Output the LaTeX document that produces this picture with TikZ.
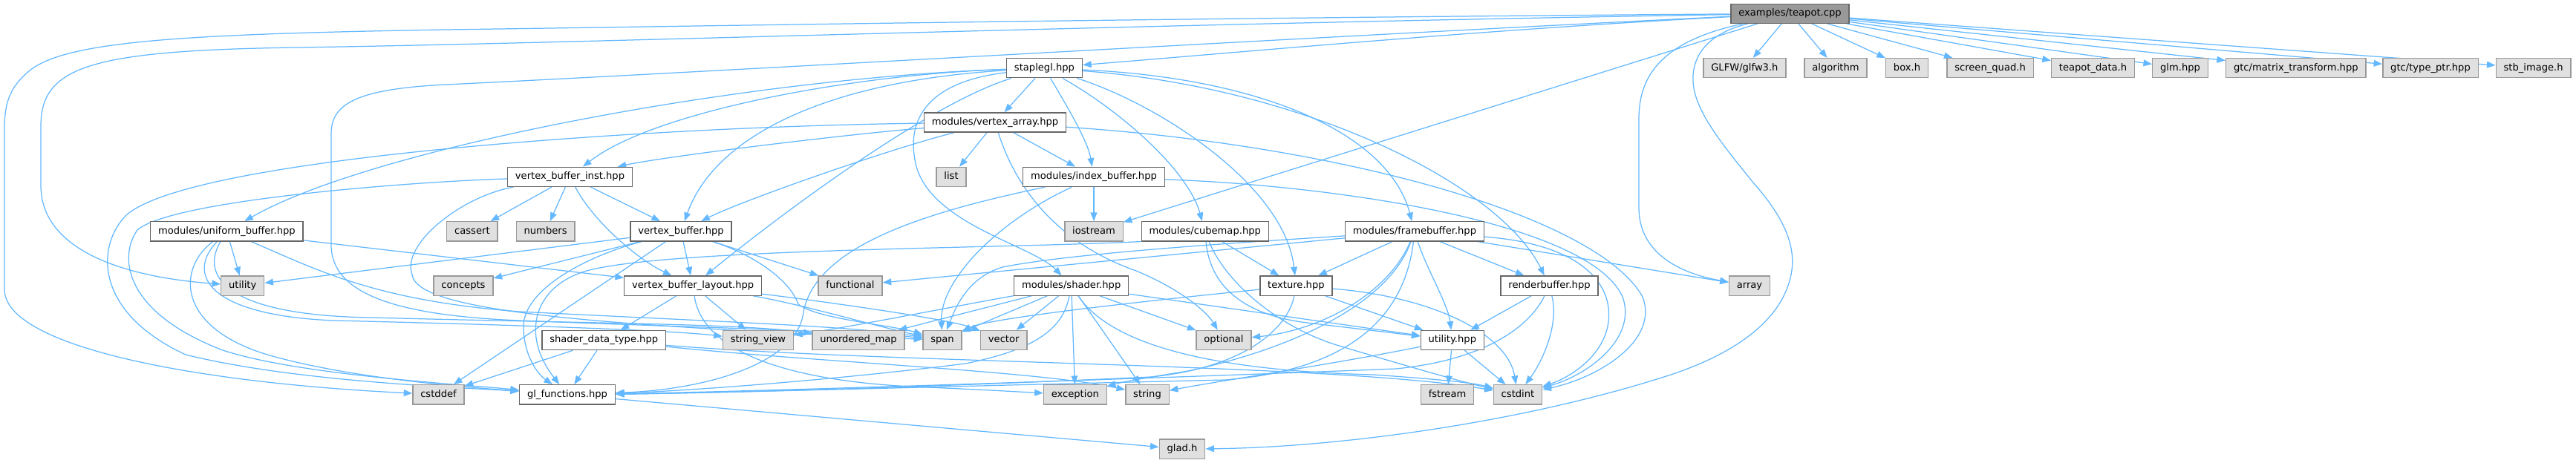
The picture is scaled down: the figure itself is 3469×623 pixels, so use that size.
\documentclass[tikz,border=0pt]{standalone}
\usepackage{fontspec}
\setmainfont{DejaVu Sans}
\usetikzlibrary{arrows.meta}
\definecolor{depblue}{HTML}{63B8FF}
\definecolor{fileline}{HTML}{666666}
\definecolor{extfill}{HTML}{E0E0E0}
\definecolor{extline}{HTML}{999999}
\definecolor{rootfill}{HTML}{999999}
\pgfdeclarelayer{edgelayer}
\pgfsetlayers{edgelayer,main}
\tikzset{
  nodebase/.style={rectangle, line width=0.65pt, font=\fontsize{6.55pt}{7.5pt}\selectfont, inner xsep=5.18pt, inner ysep=0pt, minimum height=13.1pt, text height=4.9pt, text depth=1.5pt, text=black},
  filebox/.style={nodebase, fill=white, draw=fileline},
  extbox/.style={nodebase, fill=extfill, draw=extline},
  rootbox/.style={nodebase, fill=rootfill, draw=fileline},
  dep/.style={draw=depblue, line width=0.62pt, -{Triangle[length=5.8pt,width=4.4pt]}},
}
\begin{document}
\begin{tikzpicture}[x=0.5pt,y=-0.5pt]
\useasboundingbox (0,0) rectangle (3469,623);
% rank 0
\node[rootbox] (teapot) at (2410.5,18.3) {examples/teapot.cpp};
% rank 1
\node[filebox] (staplegl) at (1406.5,91.7) {staplegl.hpp};
\node[extbox] (glfw) at (2349.4,91.7) {GLFW/glfw3.h};
\node[extbox] (algorithm) at (2472,91.7) {algorithm};
\node[extbox] (boxh) at (2568,91.7) {box.h};
\node[extbox] (screenquad) at (2680,91.7) {screen\_quad.h};
\node[extbox] (teapotdata) at (2818.5,91.7) {teapot\_data.h};
\node[extbox] (glm) at (2936,91.7) {glm.hpp};
\node[extbox] (matrix) at (3091.8,91.7) {gtc/matrix\_transform.hpp};
\node[extbox] (typeptr) at (3273,91.7) {gtc/type\_ptr.hpp};
\node[extbox] (stb) at (3411.6,91.7) {stb\_image.h};
% rank 2
\node[filebox] (vao) at (1340,165) {modules/vertex\_array.hpp};
% rank 3
\node[filebox] (vbi) at (767.5,238.4) {vertex\_buffer\_inst.hpp};
\node[extbox] (list) at (1281,238.4) {list};
\node[filebox] (ibo) at (1473,238.4) {modules/index\_buffer.hpp};
% rank 4
\node[filebox] (ubo) at (305.4,311.8) {modules/uniform\_buffer.hpp};
\node[extbox] (cassert) at (635.9,311.8) {cassert};
\node[extbox] (numbers) at (734.6,311.8) {numbers};
\node[filebox] (vbo) at (917,311.8) {vertex\_buffer.hpp};
\node[extbox] (iostream) at (1473,311.8) {iostream};
\node[filebox] (cubemap) at (1622.7,311.8) {modules/cubemap.hpp};
\node[filebox] (fbo) at (1905,311.8) {modules/framebuffer.hpp};
% rank 5
\node[extbox] (utility) at (326.7,385.1) {utility};
\node[extbox] (concepts) at (624,385.1) {concepts};
\node[filebox] (layout) at (933.2,385.1) {vertex\_buffer\_layout.hpp};
\node[extbox] (functional) at (1145,385.1) {functional};
\node[filebox] (shader) at (1442.7,385.1) {modules/shader.hpp};
\node[filebox] (texture) at (1745.4,385.1) {texture.hpp};
\node[filebox] (rbo) at (2086.5,385.1) {renderbuffer.hpp};
\node[extbox] (array) at (2356,385.1) {array};
% rank 6
\node[filebox] (sdt) at (813.2,458.5) {shader\_data\_type.hpp};
\node[extbox] (stringview) at (1021,458.5) {string\_view};
\node[extbox] (umap) at (1156,458.5) {unordered\_map};
\node[extbox] (span) at (1269,458.5) {span};
\node[extbox] (vector) at (1351.7,458.5) {vector};
\node[extbox] (optional) at (1648,458.5) {optional};
\node[filebox] (utilhpp) at (1955.8,458.5) {utility.hpp};
% rank 7
\node[extbox] (cstddef) at (590.5,531.8) {cstddef};
\node[filebox] (glfun) at (764,531.8) {gl\_functions.hpp};
\node[extbox] (exception) at (1447.8,531.8) {exception};
\node[extbox] (string) at (1545,531.8) {string};
\node[extbox] (fstream) at (1949,531.8) {fstream};
\node[extbox] (cstdint) at (2044,531.8) {cstdint};
% rank 8
\node[extbox] (glad) at (1592,605.2) {glad.h};

\begin{pgfonlayer}{edgelayer}
\fill[white] (0,0) rectangle (3469,623);
% teapot.cpp
\draw[dep] (teapot) .. controls (2000,40) and (1700,68) .. (staplegl);
\draw[dep] (teapot) -- (glfw);
\draw[dep] (teapot) -- (algorithm);
\draw[dep] (teapot) -- (boxh);
\draw[dep] (teapot) -- (screenquad);
\draw[dep] (teapot) -- (teapotdata);
\draw[dep] (teapot) -- (glm);
\draw[dep] (teapot) -- (matrix);
\draw[dep] (teapot) -- (typeptr);
\draw[dep] (teapot) -- (stb);
\draw[dep] (teapot) -- (iostream);
\draw[dep] (teapot) .. controls (2240,55) and (2207,100) .. (2207,160) -- (2207,280) .. controls (2207,340) and (2260,368) .. (array);
\draw[dep] (teapot) .. controls (2300,45) and (2278,75) .. (2280,110) .. controls (2282,150) and (2320,195) .. (2360,245) .. controls (2400,290) and (2420,330) .. (2412,370) .. controls (2400,430) and (2340,475) .. (2250,505) .. controls (2050,570) and (1800,603) .. (glad);
\draw[dep] (teapot) .. controls (1500,33) and (800,58) .. (400,64) .. controls (120,68) and (55,90) .. (55,170) -- (55,250) .. controls (55,330) and (150,372) .. (utility);
\draw[dep] (teapot) .. controls (1500,25) and (900,36) .. (600,40) .. controls (250,46) and (90,55) .. (40,95) .. controls (12,118) and (6,140) .. (6,175) -- (6,390) .. controls (6,465) and (250,515) .. (cstddef);
\draw[dep] (teapot) .. controls (1800,48) and (900,100) .. (600,114) .. controls (480,120) and (446,140) .. (446,180) -- (446,330) .. controls (446,395) and (530,425) .. (700,432) .. controls (950,442) and (1150,446) .. (span);
% staplegl.hpp
\draw[dep] (staplegl) -- (vao);
\draw[dep] (staplegl) .. controls (1435,140) and (1465,190) .. (ibo);
\draw[dep] (staplegl) .. controls (1510,150) and (1600,230) .. (cubemap);
\draw[dep] (staplegl) .. controls (1560,140) and (1730,250) .. (texture);
\draw[dep] (staplegl) .. controls (1700,105) and (1870,180) .. (fbo);
\draw[dep] (staplegl) .. controls (1760,118) and (2020,250) .. (rbo);
\draw[dep] (staplegl) .. controls (1250,110) and (1222,160) .. (1232,215) .. controls (1245,300) and (1390,330) .. (shader);
\draw[dep] (staplegl) .. controls (1000,105) and (500,200) .. (ubo);
\draw[dep] (staplegl) .. controls (1150,100) and (880,150) .. (vbi);
\draw[dep] (staplegl) .. controls (1100,110) and (960,190) .. (vbo);
\draw[dep] (staplegl) .. controls (1250,140) and (1050,290) .. (layout);
% vertex_array
\draw[dep] (vao) .. controls (1150,180) and (900,210) .. (vbi);
\draw[dep] (vao) .. controls (1200,200) and (1000,270) .. (vbo);
\draw[dep] (vao) .. controls (900,170) and (260,210) .. (170,290) .. controls (130,330) and (125,420) .. (250,478) .. controls (400,515) and (620,522) .. (glfun);
\draw[dep] (vao) -- (list);
\draw[dep] (vao) .. controls (1370,260) and (1430,330) .. (1530,365) .. controls (1590,390) and (1625,420) .. (optional);
\draw[dep] (vao) -- (ibo);
\draw[dep] (vao) .. controls (1800,195) and (2150,290) .. (2212,400) .. controls (2235,460) and (2150,510) .. (cstdint);
% vertex_buffer_inst
\draw[dep] (vbi) -- (cassert);
\draw[dep] (vbi) -- (numbers);
\draw[dep] (vbi) -- (vbo);
\draw[dep] (vbi) .. controls (800,300) and (860,350) .. (layout);
\draw[dep] (vbi) .. controls (550,245) and (230,270) .. (185,310) .. controls (160,345) and (165,420) .. (300,472) .. controls (400,505) and (620,518) .. (glfun);
\draw[dep] (vbi) .. controls (620,265) and (540,330) .. (555,370) .. controls (560,420) and (800,438) .. (span);
% index_buffer
\draw[dep] (ibo) -- (iostream);
\draw[dep] (ibo) .. controls (1340,300) and (1265,380) .. (span);
\draw[dep] (ibo) .. controls (1800,250) and (2140,300) .. (2185,400) .. controls (2205,455) and (2140,505) .. (cstdint);
\draw[dep] (ibo) .. controls (1250,285) and (1100,330) .. (1082,420) .. controls (1075,490) and (950,525) .. (glfun);
% uniform_buffer
\draw[dep] (ubo) -- (layout);
\draw[dep] (ubo) -- (utility);
\draw[dep] (ubo) .. controls (240,360) and (235,440) .. (360,478) .. controls (470,510) and (630,522) .. (glfun);
\draw[dep] (ubo) .. controls (250,370) and (280,425) .. (450,432) .. controls (700,438) and (900,445) .. (stringview);
\draw[dep] (ubo) .. controls (270,370) and (300,425) .. (500,428) .. controls (800,436) and (1000,436) .. (umap);
\draw[dep] (ubo) .. controls (420,360) and (500,405) .. (700,420) .. controls (1000,435) and (1150,440) .. (span);
% vertex_buffer
\draw[dep] (vbo) -- (utility);
\draw[dep] (vbo) .. controls (790,345) and (705,390) .. (705,440) .. controls (705,480) and (725,505) .. (glfun);
\draw[dep] (vbo) -- (cstddef);
\draw[dep] (vbo) -- (concepts);
\draw[dep] (vbo) -- (layout);
\draw[dep] (vbo) -- (functional);
\draw[dep] (vbo) .. controls (1020,345) and (1065,380) .. (1075,410) .. controls (1100,430) and (1200,438) .. (span);
% cubemap
\draw[dep] (cubemap.south west) .. controls (1350,335) and (900,335) .. (790,365) .. controls (720,385) and (700,450) .. (glfun);
\draw[dep] (cubemap) -- (texture);
\draw[dep] (cubemap) .. controls (1630,390) and (1680,425) .. (1760,435) .. controls (1820,442) and (1870,448) .. (utilhpp);
\draw[dep] (cubemap) .. controls (1650,380) and (1720,440) .. (1800,465) .. controls (1900,495) and (1970,515) .. (cstdint);
% framebuffer
\draw[dep] (fbo) -- (functional);
\draw[dep] (fbo) .. controls (1700,325) and (1450,340) .. (1350,360) .. controls (1300,375) and (1285,420) .. (span);
\draw[dep] (fbo) -- (texture);
\draw[dep] (fbo) -- (rbo);
\draw[dep] (fbo) .. controls (1920,360) and (1950,410) .. (utilhpp);
\draw[dep] (fbo) -- (array);
\draw[dep] (fbo) .. controls (2140,330) and (2175,390) .. (2165,440) .. controls (2155,485) and (2110,510) .. (cstdint);
\draw[dep] (fbo) .. controls (1870,395) and (1780,445) .. (optional);
\draw[dep] (fbo) .. controls (1870,410) and (1740,470) .. (1600,500) .. controls (1550,508) and (1515,514) .. (exception);
\draw[dep] (fbo) .. controls (1890,440) and (1800,500) .. (1650,512) .. controls (1300,520) and (950,530) .. (glfun);
% shader
\draw[dep] (shader) .. controls (1300,410) and (1150,440) .. (stringview);
\draw[dep] (shader) -- (umap);
\draw[dep] (shader) -- (span);
\draw[dep] (shader) -- (vector);
\draw[dep] (shader) .. controls (1432,440) and (1400,470) .. (1300,490) .. controls (1100,515) and (900,528) .. (glfun);
\draw[dep] (shader) -- (exception);
\draw[dep] (shader) -- (string);
\draw[dep] (shader) .. controls (1500,470) and (1650,500) .. (1850,505) .. controls (1920,510) and (1980,515) .. (cstdint);
\draw[dep] (shader) -- (optional);
\draw[dep] (shader) -- (utilhpp);
% texture
\draw[dep] (texture) .. controls (1500,410) and (1330,430) .. (span);
\draw[dep] (texture) .. controls (1735,440) and (1680,495) .. (1550,508) .. controls (1250,522) and (950,530) .. (glfun);
\draw[dep] (texture) -- (utilhpp);
\draw[dep] (texture) .. controls (1930,400) and (2030,450) .. (cstdint);
% renderbuffer
\draw[dep] (rbo) -- (utilhpp);
\draw[dep] (rbo) .. controls (2060,440) and (2000,485) .. (1880,497) .. controls (1500,512) and (1000,528) .. (glfun);
\draw[dep] (rbo) .. controls (2100,440) and (2075,490) .. (cstdint);
% vertex_buffer_layout
\draw[dep] (layout) -- (sdt);
\draw[dep] (layout) -- (stringview);
\draw[dep] (layout) .. controls (945,470) and (1050,515) .. (1250,522) .. controls (1320,525) and (1370,528) .. (exception);
\draw[dep] (layout) .. controls (1080,410) and (1180,440) .. (span);
\draw[dep] (layout) .. controls (1100,405) and (1280,430) .. (vector);
% shader_data_type
\draw[dep] (sdt) -- (glfun);
\draw[dep] (sdt) -- (cstddef);
\draw[dep] (sdt) .. controls (1200,490) and (1800,490) .. (cstdint);
\draw[dep] (sdt) .. controls (1100,488) and (1400,500) .. (string);
% utility.hpp
\draw[dep] (utilhpp) -- (fstream);
\draw[dep] (utilhpp) -- (cstdint);
\draw[dep] (utilhpp) .. controls (1800,490) and (1650,512) .. (string);
% gl_functions
\draw[dep] (glfun) -- (glad);
\end{pgfonlayer}
\end{tikzpicture}
\end{document}
